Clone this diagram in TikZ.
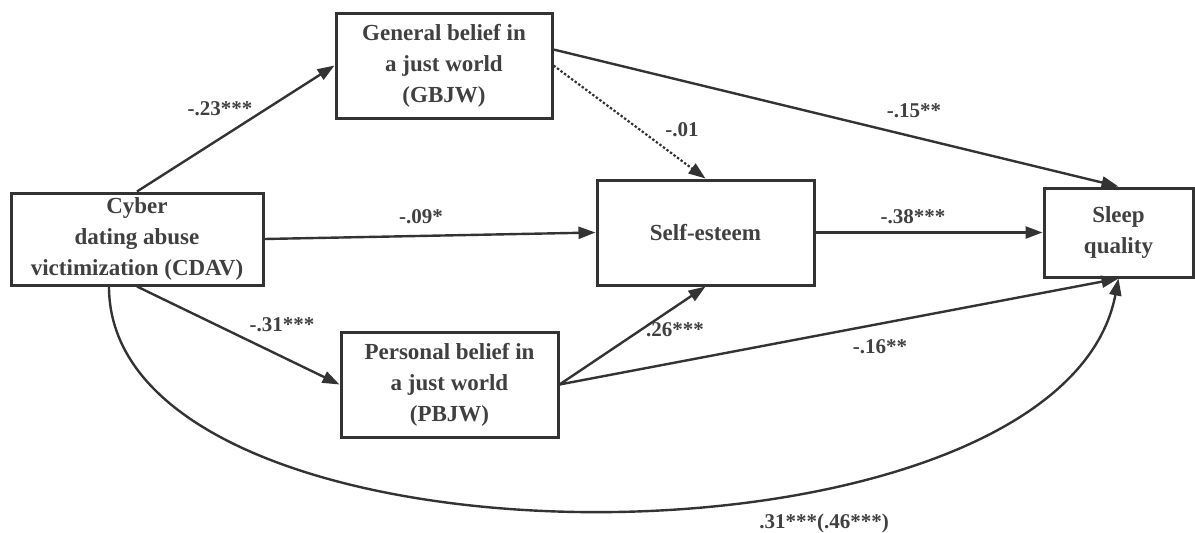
\documentclass[tikz,border=0pt]{standalone}
\usepackage{fontspec}
\setmainfont{Liberation Serif}
\usepackage{tikz}
\usetikzlibrary{arrows.meta,positioning}
\usepackage{xcolor}
\definecolor{pathgray}{RGB}{51,51,51}
\definecolor{textgray}{RGB}{64,64,64}
\tikzstyle{varbox} = [draw=pathgray, line width=3pt, align=center, text=textgray,
  font=\fontsize{23}{31}\selectfont\bfseries, inner sep=0pt]
\tikzstyle{arrow} = [line width=2.4pt, color=pathgray, -{Triangle[length=17pt,width=12pt]}]
\tikzstyle{coef} = [text=textgray, font=\fontsize{21}{24}\selectfont\bfseries, inner sep=0pt]

\begin{document}
\begin{tikzpicture}[x=1pt,y=-1pt]
\useasboundingbox (0,0) rectangle (1195,533);

% Boxes
\node[varbox, minimum width=252pt, minimum height=92pt] (cdav) at (137,239) {Cyber\\dating abuse\\victimization (CDAV)};
\node[varbox, minimum width=216pt, minimum height=105pt] (gbjw) at (444,65.5) {General belief in\\a just world\\(GBJW)};
\node[varbox, minimum width=217pt, minimum height=105pt] (pbjw) at (449.5,384.5) {Personal belief in\\a just world\\(PBJW)};
\node[varbox, minimum width=217pt, minimum height=105pt] (se) at (705.5,232.5) {Self-esteem};
\node[varbox, minimum width=149pt, minimum height=89pt] (sleep) at (1118.5,232.5) {Sleep\\quality};

% Paths
\draw[arrow] (cdav.north) -- (gbjw.west);
\draw[arrow] (cdav.east) -- (se.west);
\draw[arrow] (cdav.south) -- (pbjw.west);
\draw[arrow, dotted, line width=2.2pt] (gbjw.east) -- (se.north);
\draw[arrow] ([yshift=16pt]gbjw.east) -- (sleep.north);
\draw[arrow] (se.east) -- (sleep.west);
\draw[arrow] (pbjw.east) -- (se.south);
\draw[arrow] (pbjw.east) -- (sleep.south);
\draw[arrow] ([xshift=-28pt]cdav.south) .. controls (109,586) and (1060,586) .. (sleep.south);

% Coefficients
\node[coef] (c1) at (220,109) {-.23***};
\node[coef] (c2) at (421,217) {-.09*};
\node[coef] (c3) at (282,325) {-.31***};
\node[coef] (c4) at (682,130) {-.01};
\node[coef] (c5) at (914,111) {-.15**};
\node[coef] (c6) at (913,217) {-.38***};
\node[coef] (c7) at (675,330) {.26***};
\node[coef] (c8) at (880,347) {-.16**};
\node[coef] (c9) at (824,523) {.31***(.46***)};
\end{tikzpicture}
\end{document}
